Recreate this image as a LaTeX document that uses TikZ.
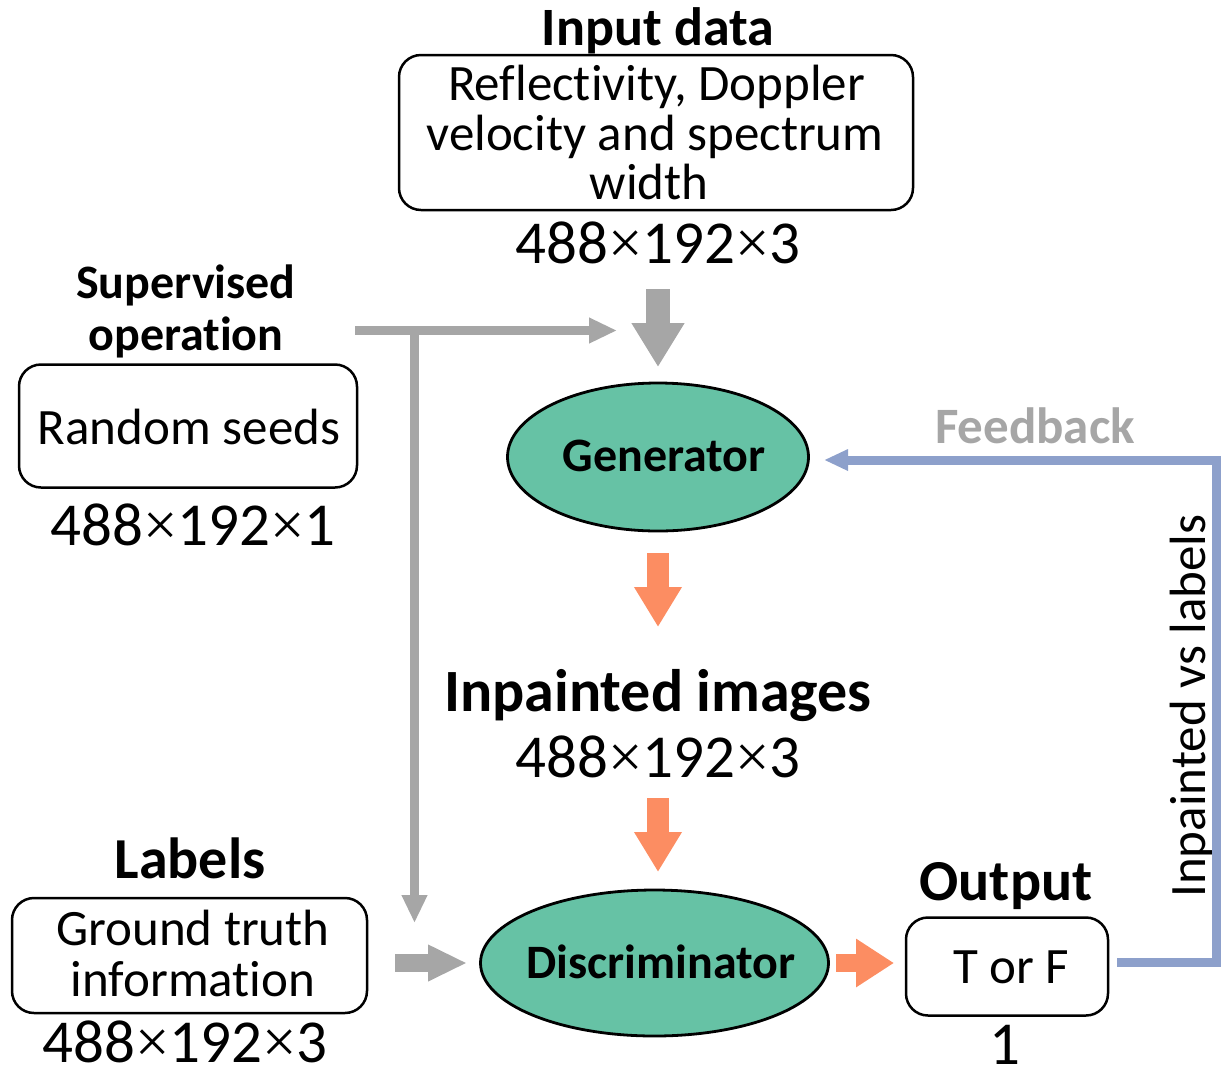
\documentclass[tikz,border=0pt]{standalone}
\usepackage{fontspec}
\setmainfont{Carlito}[Ligatures=NoCommon]
\newfontfamily\crossfont{Liberation Serif}
\newcommand{\dimx}{{\crossfont ×}}
\usetikzlibrary{arrows.meta,shapes.geometric}
\definecolor{arrgray}{HTML}{A6A6A6}
\definecolor{gangreen}{HTML}{66C2A5}
\definecolor{ganorange}{HTML}{FC8D62}
\definecolor{ganblue}{HTML}{8DA0CB}

\begin{document}
\begin{tikzpicture}[x=1pt,y=-1pt,
  every node/.style={inner sep=0pt, outer sep=0pt},
  reg/.style={anchor=base, font=\fontsize{51}{51}\selectfont},
  headtxt/.style={anchor=base, font=\fontsize{58}{58}\selectfont\bfseries},
  subhead/.style={anchor=base, font=\fontsize{48}{48}\selectfont\bfseries},
  dims/.style={anchor=base, font=\fontsize{61}{61}\selectfont},
  rbox/.style={draw=black, line width=2.5pt, rounded corners=22pt, fill=white, rectangle},
  model/.style={ellipse, draw=black, line width=2.8pt, fill=gangreen},
  modeltxt/.style={anchor=base, font=\fontsize{48}{48}\selectfont\bfseries},
  bigflow/.style={draw=arrgray, line width=24pt, -{Triangle[width=50pt,length=44pt]}},
  thinflow/.style={draw=arrgray, line width=9pt, -{Triangle[width=24pt,length=28pt]}},
  sideflow/.style={draw=arrgray, line width=18pt, -{Triangle[width=34pt,length=39pt]}},
  genflow/.style={draw=ganorange, line width=22pt, -{Triangle[width=45pt,length=40pt]}},
  outflow/.style={draw=ganorange, line width=18pt, -{Triangle[width=46pt,length=38pt]}},
  feedflow/.style={draw=ganblue, line width=9pt, line join=miter, -{Triangle[width=20pt,length=24pt]}}
]
\useasboundingbox (0,0) rectangle (1221,1072);

% ---- input data block
\node[headtxt, font=\fontsize{54}{54}\selectfont\bfseries] (inhead) at (658,45) {Input data};
\node[rbox, minimum width=514pt, minimum height=155pt] (inbox) at (656,132.5) {};
\node[reg] (inl1) at (656.5,100) {Reflectivity, Doppler};
\node[reg] (inl2) at (655,150) {velocity and spectrum};
\node[reg] (inl3) at (649,199) {width};
\node[dims] (indim) at (658,263) {488\dimx192\dimx3};

% ---- random seeds block
\node[subhead] (suph1) at (186,298) {Supervised};
\node[subhead] (suph2) at (186,350) {operation};
\node[rbox, minimum width=338pt, minimum height=123pt] (seedbox) at (188,426) {};
\node[reg] (seedtxt) at (189,444) {Random seeds};
\node[dims] (seeddim) at (193,545) {488\dimx192\dimx1};

% ---- labels block
\node[headtxt] (labhead) at (190,878) {Labels};
\node[rbox, minimum width=355pt, minimum height=115pt] (labbox) at (189.5,955.5) {};
\node[reg] (labl1) at (193,945) {Ground truth};
\node[reg] (labl2) at (193,996) {information};
\node[dims] (labdim) at (185,1062) {488\dimx192\dimx3};

% ---- generator and discriminator
\node[model, minimum width=301pt, minimum height=148pt] (gen) at (658,457) {};
\node[modeltxt] (gentxt) at (664,471) {Generator};
\node[headtxt, font=\fontsize{60}{60}\selectfont\bfseries] (inphead) at (658,711) {Inpainted images};
\node[dims] (inpdim) at (658,777) {488\dimx192\dimx3};
\node[model, minimum width=348pt, minimum height=146pt] (dis) at (654.5,963) {};
\node[modeltxt] (distxt) at (661,978) {Discriminator};

% ---- output block
\node[headtxt] (outhead) at (1006,900) {Output};
\node[rbox, minimum width=202pt, minimum height=98pt] (outbox) at (1007,966.5) {};
\node[reg] (outtxt) at (1011,983) {T or F};
\node[dims] (outdim) at (1005,1064) {1};

% ---- feedback labels
\node[anchor=base, font=\fontsize{51}{51}\selectfont\bfseries, text=arrgray] (fbtxt) at (1035,443) {Feedback};
\node[reg, rotate=90] (vstxt) at (1205,706) {Inpainted vs labels};

% ---- connectors
\coordinate (in0) at (658,289);   \coordinate (in1) at (658,367);
\coordinate (sup0) at (355,330.5); \coordinate (sup1) at (617,330.5);
\coordinate (supj) at (414.5,330.5); \coordinate (sup2) at (414.5,923);
\coordinate (lab0) at (395,963);  \coordinate (lab1) at (467,963);
\coordinate (g0) at (658,553);    \coordinate (g1) at (658,627);
\coordinate (i0) at (658,798);    \coordinate (i1) at (658,872);
\coordinate (d0) at (836,963);    \coordinate (d1) at (894,963);
\coordinate (f0) at (1117,962);   \coordinate (fc1) at (1216.5,962);
\coordinate (fc2) at (1216.5,460); \coordinate (f1) at (824,460);

\draw[bigflow] (in0) -- (in1);
\draw[thinflow] (sup0) -- (sup1);
\draw[thinflow] (supj) -- (sup2);
\draw[sideflow] (lab0) -- (lab1);
\draw[genflow] (g0) -- (g1);
\draw[genflow] (i0) -- (i1);
\draw[outflow] (d0) -- (d1);
\draw[feedflow] (f0) -- (fc1) -- (fc2) -- (f1);
\end{tikzpicture}
\end{document}
